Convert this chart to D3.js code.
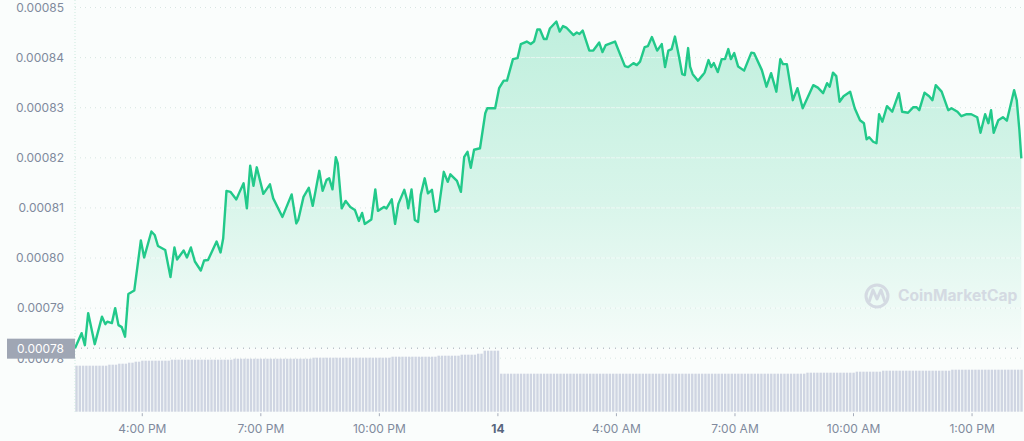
<!DOCTYPE html>
<html>
<head>
<meta charset="utf-8">
<script src="https://cdn.jsdelivr.net/npm/d3@7"></script>
<style>
  html, body { margin: 0; padding: 0; background: #fafdfc; }
  svg { display: block; font-family: Inter, "Noto Sans", Roboto, sans-serif; }
</style>
</head>
<body>
<svg id="chart" width="1024" height="441"></svg>
<script>
// ---- DATA ----
// price samples: minutes after the window start, and price (USD)
const priceMinutes = [
  0,10,15,20,30,41,46,49,56,61,
  66,71,76,81,90,100,105,116,121,126,
  137,145,151,155,165,170,176,182,191,196,
  202,208,215,221,225,230,236,245,250,256,
  261,266,271,276,286,296,301,315,329,336,
  339,347,355,361,371,376,382,386,391,396,
  399,405,411,418,425,431,436,440,450,456,
  460,469,473,481,486,491,500,504,506,511,
  516,521,525,531,536,542,547,552,560,566,
  570,580,586,591,596,601,606,615,623,626,
  638,644,651,656,665,672,677,686,692,697,
  702,706,712,716,721,731,736,741,746,757,
  762,766,771,781,787,796,801,806,820,827,
  835,840,848,853,858,865,870,876,884,891,
  896,901,906,911,917,922,926,931,934,938,
  946,953,956,962,966,970,976,982,987,992,
  996,1001,1007,1016,1027,1031,1043,1050,1057,1065,
  1071,1075,1081,1090,1097,1105,1121,1128,1136,1142,
  1146,1151,1156,1161,1167,1177,1184,1192,1198,1202,
  1206,1212,1217,1221,1226,1233,1241,1251,1256,1265,
  1273,1278,1282,1290,1297,1302,1307,1316,1326,1331,
  1340,1346,1354,1361,1370,1375,1382,1387,1391,1395,
  1402,1409,1415,1426,1430,1434,1437
];
const priceValues = [
  0.0007820,0.0007850,0.0007826,0.0007890,0.0007828,0.0007883,0.0007868,0.0007873,0.0007870,0.0007900,
  0.0007866,0.0007862,0.0007843,0.0007928,0.0007935,0.0008035,0.0008001,0.0008053,0.0008046,0.0008024,
  0.0008016,0.0007962,0.0008021,0.0007997,0.0008015,0.0008001,0.0008021,0.0007993,0.0007975,0.0007995,
  0.0007996,0.0008013,0.0008033,0.0008011,0.0008039,0.0008134,0.0008132,0.0008117,0.0008132,0.0008149,
  0.0008099,0.0008184,0.0008144,0.0008181,0.0008128,0.0008147,0.0008119,0.0008082,0.0008127,0.0008069,
  0.0008076,0.0008122,0.0008140,0.0008104,0.0008174,0.0008134,0.0008156,0.0008159,0.0008137,0.0008201,
  0.0008189,0.0008099,0.0008114,0.0008102,0.0008096,0.0008074,0.0008090,0.0008068,0.0008077,0.0008137,
  0.0008094,0.0008102,0.0008099,0.0008117,0.0008068,0.0008108,0.0008136,0.0008117,0.0008099,0.0008137,
  0.0008076,0.0008072,0.0008126,0.0008159,0.0008129,0.0008136,0.0008092,0.0008096,0.0008172,0.0008152,
  0.0008167,0.0008154,0.0008132,0.0008202,0.0008212,0.0008180,0.0008216,0.0008219,0.0008289,0.0008299,
  0.0008299,0.0008339,0.0008354,0.0008354,0.0008397,0.0008399,0.0008427,0.0008432,0.0008427,0.0008432,
  0.0008456,0.0008456,0.0008437,0.0008437,0.0008458,0.0008472,0.0008452,0.0008463,0.0008460,0.0008445,
  0.0008450,0.0008447,0.0008454,0.0008414,0.0008414,0.0008430,0.0008411,0.0008425,0.0008432,0.0008409,
  0.0008383,0.0008381,0.0008389,0.0008385,0.0008392,0.0008421,0.0008423,0.0008441,0.0008414,0.0008427,
  0.0008381,0.0008414,0.0008417,0.0008442,0.0008403,0.0008367,0.0008365,0.0008419,0.0008382,0.0008367,
  0.0008354,0.0008365,0.0008370,0.0008395,0.0008381,0.0008389,0.0008371,0.0008397,0.0008397,0.0008417,
  0.0008397,0.0008409,0.0008382,0.0008374,0.0008410,0.0008409,0.0008375,0.0008342,0.0008369,0.0008332,
  0.0008397,0.0008387,0.0008387,0.0008315,0.0008339,0.0008299,0.0008345,0.0008340,0.0008329,0.0008349,
  0.0008342,0.0008370,0.0008363,0.0008312,0.0008323,0.0008332,0.0008299,0.0008275,0.0008269,0.0008237,
  0.0008241,0.0008232,0.0008229,0.0008287,0.0008272,0.0008303,0.0008292,0.0008329,0.0008292,0.0008290,
  0.0008301,0.0008301,0.0008295,0.0008330,0.0008323,0.0008315,0.0008345,0.0008332,0.0008295,0.0008299,
  0.0008292,0.0008283,0.0008287,0.0008287,0.0008281,0.0008250,0.0008287,0.0008269,0.0008295,0.0008250,
  0.0008275,0.0008281,0.0008274,0.0008335,0.0008315,0.0008256,0.0008199
];
// volume bars, one per 5 minutes (relative units), grouped by hour
const volumeValues = [
  46,46,46,46,46,46,46,46,46,46,47,47,
  47,48,48,48,49,49,50,50,51,51,51,51,
  51,51,51,51,51,52,52,52,52,52,52,52,
  52,52,52,52,52,52,52,52,52,52,52,52,
  53,53,53,53,53,53,53,53,53,53,53,53,
  53,53,53,53,53,53,53,53,53,53,53,53,
  54,54,54,54,54,54,54,54,54,54,54,54,
  54,54,54,54,54,54,54,54,54,54,54,54,
  55,55,55,55,55,55,55,55,55,55,55,55,
  55,55,56,56,56,56,56,56,56,57,57,57,
  57,57,58,58,61,61,61,61,61,38,38,38,
  38,38,38,38,38,38,38,38,38,38,38,38,
  38,38,38,38,38,38,38,38,38,38,38,38,
  38,38,38,38,38,38,38,38,38,38,38,38,
  38,38,38,38,38,38,38,38,38,38,38,38,
  38,38,38,38,38,38,38,38,38,38,38,38,
  38,38,38,38,38,38,38,38,38,38,38,38,
  38,38,38,38,38,38,38,38,38,38,38,38,
  38,38,38,38,38,38,39,39,39,39,39,39,
  39,39,39,39,39,39,39,39,39,40,40,40,
  40,40,40,40,40,41,41,41,41,41,41,41,
  41,41,41,41,41,41,41,41,41,41,41,41,
  41,41,42,42,42,42,42,42,42,42,42,42,
  42,42,42,42,42,42,42,42,42,42,42,42
];
const yTickValues = [0.00078, 0.00079, 0.00080, 0.00081, 0.00082, 0.00083, 0.00084, 0.00085];
const yTickLabels = ["0.00078", "0.00079", "0.00080", "0.00081", "0.00082", "0.00083", "0.00084", "0.00085"];
const xTickTimes = ["2024-01-13T16:00", "2024-01-13T19:00", "2024-01-13T22:00", "2024-01-14T01:00",
                    "2024-01-14T04:00", "2024-01-14T07:00", "2024-01-14T10:00", "2024-01-14T13:00"];
const xTickLabels = ["4:00 PM", "7:00 PM", "10:00 PM", "14", "4:00 AM", "7:00 AM", "10:00 AM", "1:00 PM"];
const windowStart = "2024-01-13T14:18:36";
const windowMinutes = 1438;
const openLabel = "0.00078";
const watermark = "CoinMarketCap";

// ---- DRAW ----
(function () {
const svg = d3.select("#chart");
const W = 1024, H = 441;
const plotLeft = 75, plotRight = 1022, plotTop = 7.5;
const start = new Date(windowStart);
const minuteDate = m => new Date(start.getTime() + m * 60000);

const x = d3.scaleTime().domain([start, minuteDate(windowMinutes)]).range([plotLeft, plotRight]);
const y = d3.scaleLinear().domain([0.00078, 0.00085]).range([358.2, plotTop]);
const volBase = 411.7;
const yv = d3.scaleLinear().domain([0, d3.max(volumeValues)]).range([volBase, volBase - 61]);

const data = priceMinutes.map((m, i) => ({ t: minuteDate(m), p: priceValues[i] }));
const openY = y(priceValues[0]);

svg.append("rect").attr("width", W).attr("height", H).attr("fill", "#fafdfc");

const defs = svg.append("defs");
const grad = defs.append("linearGradient").attr("id", "areaGrad")
  .attr("gradientUnits", "userSpaceOnUse").attr("x1", 0).attr("x2", 0).attr("y1", 15).attr("y2", openY);
grad.append("stop").attr("offset", 0).attr("stop-color", "#16c784").attr("stop-opacity", 0.26);
grad.append("stop").attr("offset", 0.55).attr("stop-color", "#16c784").attr("stop-opacity", 0.15);
grad.append("stop").attr("offset", 1).attr("stop-color", "#16c784").attr("stop-opacity", 0.02);

// area
const area = d3.area().x(d => x(d.t)).y0(openY).y1(d => y(d.p));
svg.append("path").datum(data).attr("d", area).attr("fill", "url(#areaGrad)");

// gridlines
const grid = svg.append("g");
yTickValues.forEach(v => {
  grid.append("line").attr("x1", plotLeft).attr("x2", plotRight).attr("y1", y(v)).attr("y2", y(v))
    .attr("stroke", "#ffffff").attr("stroke-opacity", 0.55).attr("stroke-width", 1);
  grid.append("line").attr("x1", plotLeft).attr("x2", plotRight).attr("y1", y(v)).attr("y2", y(v))
    .attr("stroke", "#d6e6e1").attr("stroke-width", 1).attr("stroke-dasharray", "1,4");
});

// watermark
const wm = svg.append("g").attr("opacity", 0.9);
wm.append("circle").attr("cx", 877).attr("cy", 296).attr("r", 11)
  .attr("fill", "none").attr("stroke", "#d2d7e1").attr("stroke-width", 3);
wm.append("path").attr("d", "M869,302 L873,290 L877,299 L881,290 L885,302")
  .attr("fill", "none").attr("stroke", "#d2d7e1").attr("stroke-width", 3).attr("stroke-linejoin", "round");
wm.append("text").attr("x", 898).attr("y", 296).attr("dy", "0.35em")
  .attr("font-size", 15.6).attr("font-weight", 700).attr("fill", "#d2d7e1").text(watermark);

// volume bars
svg.append("g").selectAll("rect").data(volumeValues).join("rect")
  .attr("x", (d, i) => x(minuteDate(i * 5)) + 0.3)
  .attr("width", 2.4)
  .attr("y", d => yv(d))
  .attr("height", d => volBase - yv(d))
  .attr("fill", "#cfd5e2");

// open price dotted line
svg.append("line").attr("x1", plotLeft).attr("x2", plotRight).attr("y1", openY).attr("y2", openY)
  .attr("stroke", "#9ea5b3").attr("stroke-width", 1).attr("stroke-dasharray", "1,5");

// left axis line
svg.append("line").attr("x1", plotLeft).attr("x2", plotLeft).attr("y1", 0).attr("y2", volBase)
  .attr("stroke", "#cdeadf").attr("stroke-width", 1).attr("stroke-dasharray", "1,2");

// price line
const line = d3.line().x(d => x(d.t)).y(d => y(d.p));
svg.append("path").datum(data).attr("d", line).attr("fill", "none")
  .attr("stroke", "#22c98a").attr("stroke-width", 2.4).attr("stroke-linejoin", "round");

// y axis labels
const yAxis = d3.axisLeft(y).tickValues(yTickValues).tickFormat((d, i) => yTickLabels[i]).tickSize(0).tickPadding(0);
const yg = svg.append("g").attr("transform", "translate(64,0)").call(yAxis);
yg.select(".domain").remove();
yg.selectAll("text").attr("font-size", 12).attr("fill", "#808a9d")
  .attr("font-family", "Inter, 'Noto Sans', sans-serif");

// open price tag
svg.append("rect").attr("x", 7).attr("y", openY - 9.5).attr("width", 68).attr("height", 20).attr("fill", "#9fa6b4");
svg.append("text").attr("x", 64).attr("y", openY + 0.5).attr("dy", "0.35em").attr("text-anchor", "end")
  .attr("font-size", 12).attr("fill", "#ffffff").text(openLabel);

// x axis
const xTicks = xTickTimes.map(s => new Date(s));
const xAxis = d3.axisBottom(x).tickValues(xTicks).tickFormat((d, i) => xTickLabels[i]).tickSize(3).tickPadding(8);
const xg = svg.append("g").attr("transform", `translate(0,${volBase + 1.5})`).call(xAxis);
xg.select(".domain").remove();
xg.selectAll(".tick line").attr("stroke", "#a6adbb");
xg.selectAll("text").attr("font-size", 12)
  .attr("font-family", "Inter, 'Noto Sans', sans-serif")
  .attr("font-weight", (d, i) => xTickLabels[i] === "14" ? 700 : 400)
  .attr("fill", (d, i) => xTickLabels[i] === "14" ? "#58667e" : "#808a9d");
})();
</script>
</body>
</html>
